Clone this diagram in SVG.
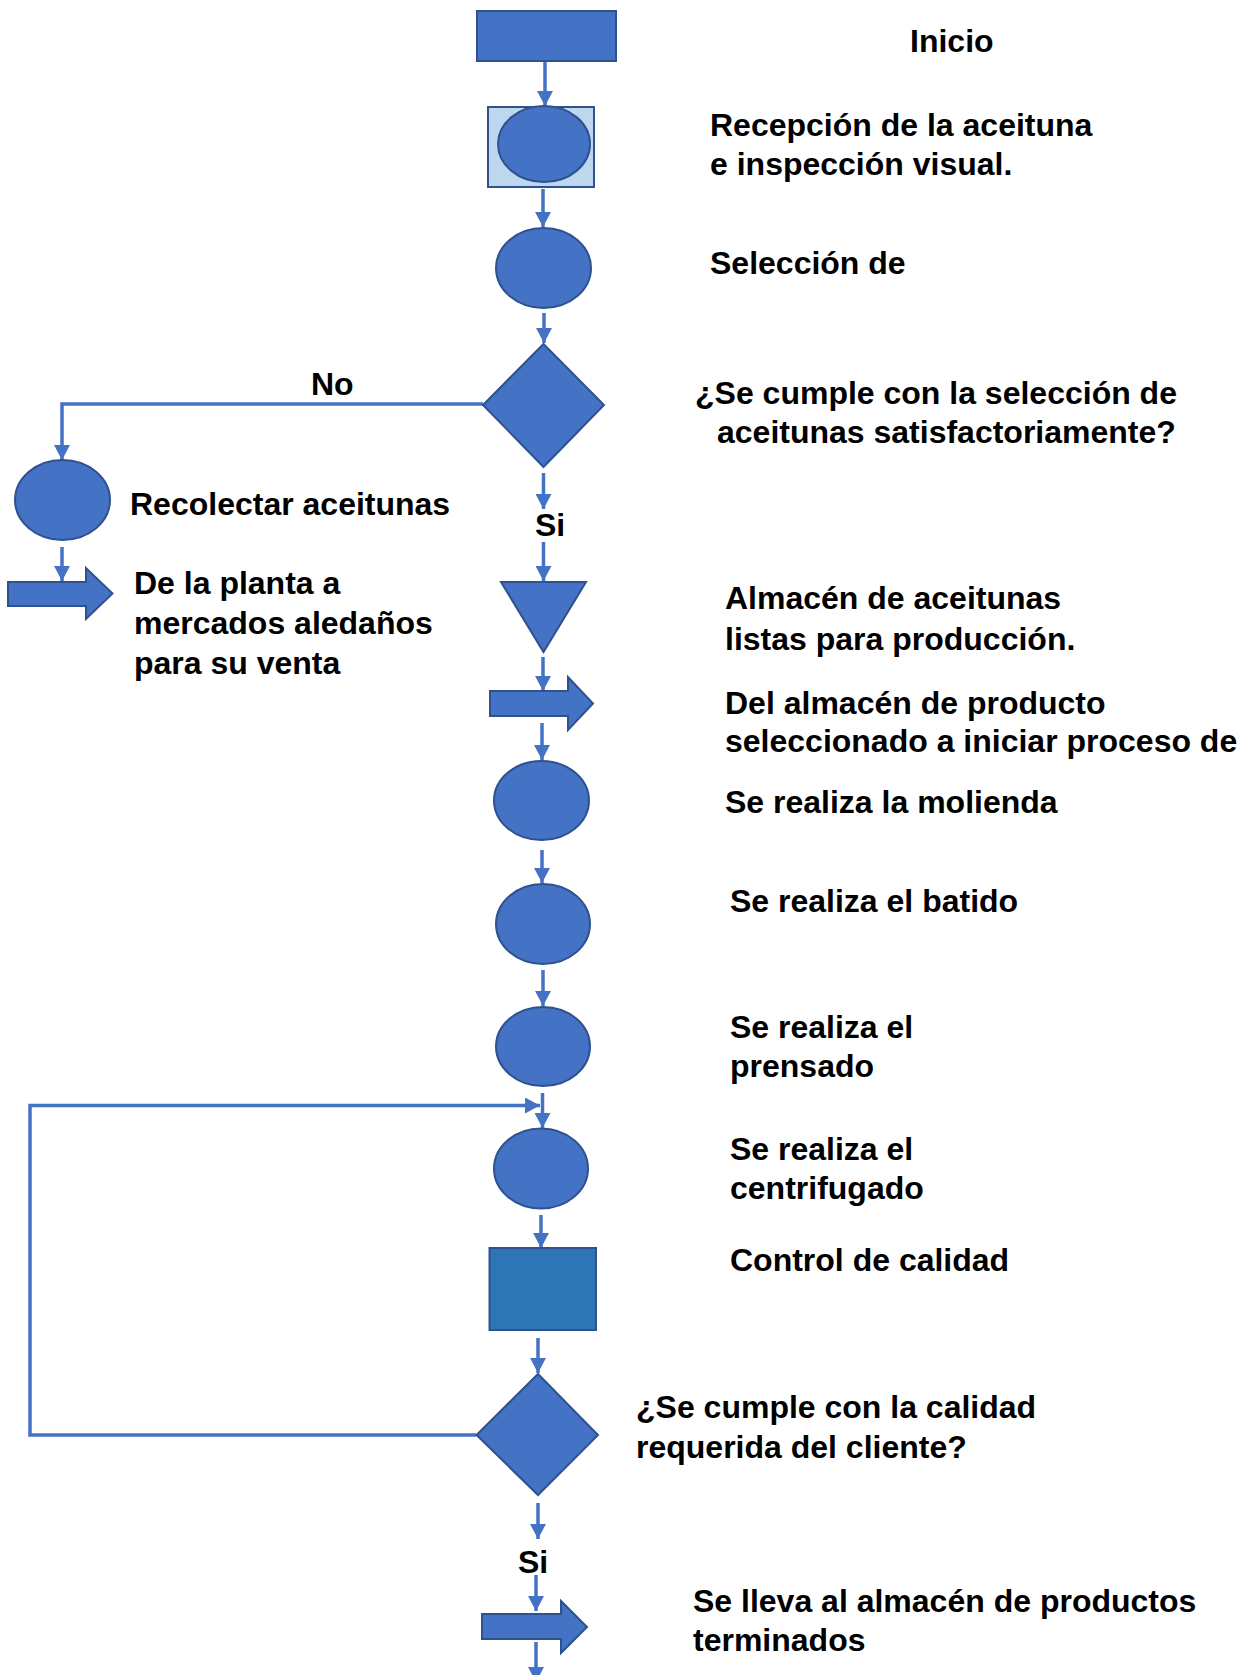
<svg xmlns="http://www.w3.org/2000/svg" width="1245" height="1675" viewBox="0 0 1245 1675">
  <defs>
    <style>
      .shape { fill: #4472C4; stroke: #2F528F; stroke-width: 2; }
      .light { fill: #BDD7EE; stroke: #2F528F; stroke-width: 2; }
      .dark { fill: #2E75B6; stroke: #2F528F; stroke-width: 2; }
      .conn { fill: none; stroke: #4472C4; stroke-width: 3.5; }
      .label { font-family: "Liberation Sans", Arial, sans-serif; font-weight: bold; font-size: 32px; fill: #000000; }
    </style>
    <marker id="arrow" markerUnits="userSpaceOnUse" markerWidth="16" markerHeight="16" refX="15" refY="8" orient="auto">
      <path d="M0,0 L15,8 L0,16 Z" fill="#4472C4"/>
    </marker>
  </defs>

  <rect width="1245" height="1675" fill="#ffffff"/>

  <!-- connectors -->
  <g id="connectors">
    <line class="conn" x1="545" y1="62" x2="545" y2="106" marker-end="url(#arrow)"/>
    <line class="conn" x1="543" y1="189" x2="543" y2="227" marker-end="url(#arrow)"/>
    <line class="conn" x1="544" y1="313" x2="544" y2="343" marker-end="url(#arrow)"/>
    <polyline class="conn" points="483,404 62,404 62,460" marker-end="url(#arrow)"/>
    <line class="conn" x1="62" y1="547" x2="62" y2="581" marker-end="url(#arrow)"/>
    <line class="conn" x1="543.5" y1="473" x2="543.5" y2="509" marker-end="url(#arrow)"/>
    <line class="conn" x1="543.5" y1="542" x2="543.5" y2="581" marker-end="url(#arrow)"/>
    <line class="conn" x1="543" y1="657" x2="543" y2="691" marker-end="url(#arrow)"/>
    <line class="conn" x1="542" y1="723" x2="542" y2="760" marker-end="url(#arrow)"/>
    <line class="conn" x1="542" y1="850" x2="542" y2="883" marker-end="url(#arrow)"/>
    <line class="conn" x1="543" y1="970" x2="543" y2="1006" marker-end="url(#arrow)"/>
    <line class="conn" x1="542.5" y1="1093" x2="542.5" y2="1128" marker-end="url(#arrow)"/>
    <polyline class="conn" points="476,1435 30,1435 30,1105.5 540,1105.5" marker-end="url(#arrow)"/>
    <line class="conn" x1="541" y1="1215" x2="541" y2="1248" marker-end="url(#arrow)"/>
    <line class="conn" x1="538" y1="1338" x2="538" y2="1373" marker-end="url(#arrow)"/>
    <line class="conn" x1="538" y1="1503" x2="538" y2="1539" marker-end="url(#arrow)"/>
    <line class="conn" x1="536" y1="1575" x2="536" y2="1611" marker-end="url(#arrow)"/>
    <line class="conn" x1="536" y1="1642" x2="536" y2="1682" marker-end="url(#arrow)"/>
  </g>

  <!-- nodes -->
  <g id="inicio">
    <rect class="shape" x="477" y="11" width="139" height="50"/>
    <text class="label" x="910" y="52">Inicio</text>
  </g>

  <g id="recepcion">
    <rect class="light" x="488" y="107" width="106" height="80"/>
    <ellipse class="shape" cx="544" cy="144" rx="46" ry="38"/>
    <text class="label" x="710" y="136">Recepción de la aceituna</text>
    <text class="label" x="710" y="175">e inspección visual.</text>
  </g>

  <g id="seleccion">
    <ellipse class="shape" cx="543.5" cy="268" rx="47.5" ry="40"/>
    <text class="label" x="710" y="274">Selección de</text>
  </g>

  <g id="decision-seleccion">
    <polygon class="shape" points="543.5,344 604,405 543.5,467 483,405"/>
    <text class="label" x="695" y="404">¿Se cumple con la selección de</text>
    <text class="label" x="717" y="443">aceitunas satisfactoriamente?</text>
    <text class="label" x="311" y="395">No</text>
    <text class="label" x="535" y="536">Si</text>
  </g>

  <g id="recolectar">
    <ellipse class="shape" cx="62.5" cy="500" rx="47.5" ry="40"/>
    <text class="label" x="130" y="515">Recolectar aceitunas</text>
  </g>

  <g id="transporte-mercados">
    <polygon class="shape" points="8,582 86,582 86,568 112.5,593.5 86,619 86,606 8,606"/>
    <text class="label" x="134" y="594">De la planta a</text>
    <text class="label" x="134" y="634">mercados aledaños</text>
    <text class="label" x="134" y="674">para su venta</text>
  </g>

  <g id="almacen-aceitunas">
    <polygon class="shape" points="501,582 586,582 543.5,652"/>
    <text class="label" x="725" y="609">Almacén de aceitunas</text>
    <text class="label" x="725" y="650">listas para producción.</text>
  </g>

  <g id="transporte-proceso">
    <polygon class="shape" points="490,691 568,691 568,677 593,703.5 568,730 568,716 490,716"/>
    <text class="label" x="725" y="714">Del almacén de producto</text>
    <text class="label" x="725" y="752">seleccionado a iniciar proceso de</text>
  </g>

  <g id="molienda">
    <ellipse class="shape" cx="541.5" cy="800.5" rx="47.5" ry="39.5"/>
    <text class="label" x="725" y="813">Se realiza la molienda</text>
  </g>

  <g id="batido">
    <ellipse class="shape" cx="543" cy="924" rx="47" ry="40"/>
    <text class="label" x="730" y="912">Se realiza el batido</text>
  </g>

  <g id="prensado">
    <ellipse class="shape" cx="543" cy="1046.5" rx="47" ry="39.5"/>
    <text class="label" x="730" y="1038">Se realiza el</text>
    <text class="label" x="730" y="1077">prensado</text>
  </g>

  <g id="centrifugado">
    <ellipse class="shape" cx="541" cy="1168.5" rx="47" ry="40"/>
    <text class="label" x="730" y="1160">Se realiza el</text>
    <text class="label" x="730" y="1199">centrifugado</text>
  </g>

  <g id="control-calidad">
    <rect class="dark" x="489.5" y="1248" width="106.5" height="82"/>
    <text class="label" x="730" y="1271">Control de calidad</text>
  </g>

  <g id="decision-calidad">
    <polygon class="shape" points="538,1374 598,1435 538,1495 476.5,1435"/>
    <text class="label" x="636" y="1418">¿Se cumple con la calidad</text>
    <text class="label" x="636" y="1458">requerida del cliente?</text>
    <text class="label" x="518" y="1573">Si</text>
  </g>

  <g id="almacen-terminados">
    <polygon class="shape" points="482,1614 561,1614 561,1601 587,1627 561,1653 561,1639 482,1639"/>
    <text class="label" x="693" y="1612">Se lleva al almacén de productos</text>
    <text class="label" x="693" y="1651">terminados</text>
  </g>
</svg>
